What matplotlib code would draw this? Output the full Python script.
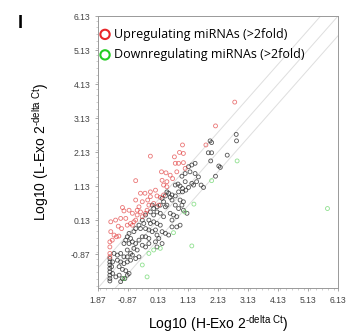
import numpy as np
import matplotlib
matplotlib.use('Agg')
from matplotlib import pyplot as plt
from matplotlib.ticker import MultipleLocator, FixedLocator

# values (log10 of 2^-dCt)
up_x = [2.69, 2.05, 0.95, 1.73, -0.12, 0.85, 0.98, 0.68, 0.71, 0.82, 0.98, 1.04, 0.76,
        0.25, 0.40, 0.54, 0.62, -0.61, 0.43, 0.43, -0.45, -0.30, -0.12, -0.12, 0.10,
        0.21, 0.32, -0.61, -0.39, -0.21, -0.01, 0.16, -1.05, -1.00, -0.83, -0.72,
        -0.50, -0.45, -0.56, -0.39, -0.28, -1.44, -1.28, -1.11, -0.94, -1.19, -1.08,
        -0.89, -0.78, -0.67, -1.44, -1.33, -1.25, -1.39, -1.17, -1.47, -1.47, -1.47,
        -1.47, -0.61, -0.72, -0.56, 0.27, 0.32, 0.05, -0.23, -0.17]
up_y = [3.60, 2.90, 2.34, 2.34, 2.01, 2.12, 2.09, 1.99, 1.80, 1.80, 1.82, 1.65, 1.55,
        1.55, 1.52, 1.45, 1.35, 1.29, 1.26, 1.11, 0.92, 0.92, 0.96, 0.82, 0.84,
        0.80, 0.87, 0.72, 0.67, 0.72, 0.62, 0.57, 0.50, 0.40, 0.42, 0.33,
        0.52, 0.37, 0.28, 0.23, 0.33, 0.08, 0.13, 0.18, 0.18, -0.05, -0.12,
        -0.02, 0.03, 0.08, -0.21, -0.31, -0.36, -0.46, -0.34, -0.51, -0.66, -0.85,
        -0.95, 0.13, -0.02, 0.42, 1.30, 1.16, 1.01, 0.42, 0.57]

down_x = [5.78, 2.77, 1.92, 1.33, 1.02, 0.65, 1.26, 0.21, -0.01, -0.17, -0.39, -0.23, -1.00]
down_y = [0.47, 1.87, 1.29, 0.60, 0.37, -0.24, -0.63, -0.70, -0.75, -0.85, -1.19, -1.54, -1.59]

other_x = [2.74, 2.75, 2.44, 1.87, 1.92, 1.81, 1.92, 1.89, 2.16, 2.21, 2.05,
           1.37, 1.26, 1.15, 1.20, 1.04, 0.93, 1.04, 1.37, 1.48, 1.42, 1.57, 1.65,
           1.26, 1.32, 1.15, 0.71, 0.80, 0.87, 0.95, 1.06, 0.95, 0.82,
           0.43, 0.49, 0.38, 0.54, 0.60, 0.71, 0.87, 0.98, 0.93, 0.71, 0.82,
           0.27, 0.32, 0.21, 0.38, 0.10, -0.01, -0.06, -0.12, -0.01, 0.10, 0.21, 0.32,
           0.54, 0.65, 0.76, 0.60, -0.28, -0.39, -0.34, -0.17, -0.12, -0.01, 0.10, 0.21,
           -0.50, -0.61, -0.67, -0.45, -0.28, -0.17, -0.06, 0.05, 0.27, 0.38, 0.49, 0.10, 0.16,
           -0.83, -0.89, -0.78, -0.72, -0.94, -1.00, -0.83, -0.61, -0.50, -0.39, -0.28, -0.17,
           -0.39, -0.28, -0.17, -0.67, -0.56, -0.89, -0.78,
           -1.33, -1.22, -1.11, -1.00, -0.89, -0.72, -0.61, -0.50,
           -1.22, -1.11, -1.00, -0.89, -0.78, -1.16, -1.05, -0.94, -0.83,
           -1.47, -1.47, -1.47, -1.47, -1.47, -1.47, -1.47, -1.47,
           -1.38, -1.41, -1.38, -1.27, -1.16, -1.05, -0.89, -1.11, -0.97,
           0.60, 0.76, 0.87, 0.05, 0.10, 0.27, 0.98, 1.10, 0.43, 0.60]
other_y = [2.65, 2.46, 2.04, 2.46, 2.41, 2.11, 2.11, 1.87, 1.72, 1.68, 1.42,
           1.80, 1.75, 1.70, 1.55, 1.50, 1.42, 1.26, 1.50, 1.40, 1.26, 1.16, 1.09,
           1.21, 1.16, 1.09, 1.16, 1.19, 1.13, 1.06, 1.01, 0.96, 0.96,
           0.96, 0.92, 0.84, 0.80, 0.87, 0.84, 0.72, 0.67, 0.57, 0.57, 0.47,
           0.77, 0.67, 0.57, 0.52, 0.52, 0.47, 0.57, 0.37, 0.28, 0.37, 0.33, 0.23,
           0.33, 0.28, 0.23, 0.13, 0.28, 0.13, 0.03, 0.13, 0.03, 0.08, 0.03, -0.02,
           -0.02, -0.12, -0.21, -0.12, -0.12, -0.16, -0.21, -0.16, -0.21, -0.26, -0.31, -0.31, -0.41,
           -0.26, -0.36, -0.41, -0.51, -0.46, -0.56, -0.56, -0.56, -0.46, -0.36, -0.36, -0.41,
           -0.61, -0.66, -0.56, -0.70, -0.75, -0.75, -0.85,
           -0.85, -0.90, -0.85, -0.95, -0.95, -0.90, -1.00, -0.95,
           -1.05, -1.10, -1.15, -1.10, -1.05, -1.24, -1.32, -1.36, -1.44,
           -1.00, -1.10, -1.19, -1.29, -1.39, -1.49, -1.59, -1.66,
           -1.10, -1.24, -1.44, -1.54, -1.49, -1.59, -1.49, -1.68, -1.59,
           -0.07, -0.07, -0.02, -0.51, -0.66, -0.56, 0.42, 0.33, 0.57, 0.72]

x_ticks = [-1.87, -0.87, 0.13, 1.13, 2.13, 3.13, 4.13, 5.13, 6.13]
x_labels = ['1.87', '-0.87', '0.13', '1.13', '2.13', '3.13', '4.13', '5.13', '6.13']
y_ticks = [-0.87, 0.13, 1.13, 2.13, 3.13, 4.13, 5.13, 6.13]
y_labels = ['-0.87', '0.13', '1.13', '2.13', '3.13', '4.13', '5.13', '6.13']
offset = 0.58

plt.rcParams['font.family'] = ['Liberation Sans', 'DejaVu Sans']
fig = plt.figure(figsize=(3.47, 3.35), dpi=100)
ax = fig.add_axes([0.282, 0.140, 0.692, 0.812])

lo, hi = -1.87, 6.13
line = np.array([lo, hi])
for off in (offset, 0, -offset):
    ax.plot(line, line + off, color='#dedede', lw=0.7, zorder=1)

ax.scatter(other_x, other_y, s=8, facecolors='none', edgecolors='#2a2a2a',
           linewidths=0.6, alpha=0.8, zorder=2)
ax.scatter(up_x, up_y, s=8, facecolors='none', edgecolors='#e23c3c',
           linewidths=0.6, alpha=0.7, zorder=3)
ax.scatter(down_x, down_y, s=8, facecolors='none', edgecolors='#5fd35f',
           linewidths=0.6, alpha=0.7, zorder=3)

# legend entries
h_up = ax.scatter([], [], s=45, facecolors='none', edgecolors='#e8262a', linewidths=1.5)
h_dn = ax.scatter([], [], s=45, facecolors='none', edgecolors='#22cc22', linewidths=1.5)
ax.legend([h_up, h_dn], ['Upregulating miRNAs (>2fold)', 'Downregulating miRNAs (>2fold)'],
          loc='upper left', bbox_to_anchor=(-0.03, 0.985), frameon=False,
          handletextpad=0.15, labelspacing=0.6, borderaxespad=0.2,
          prop={'family': 'Open Sans', 'size': 9}, handlelength=1.1)

ax.set_xlim(lo, hi)
ax.set_ylim(lo, hi)
ax.xaxis.set_major_locator(FixedLocator(x_ticks))
ax.set_xticklabels(x_labels)
ax.yaxis.set_major_locator(FixedLocator(y_ticks))
ax.set_yticklabels(y_labels)
ax.xaxis.set_minor_locator(MultipleLocator(0.2))
ax.yaxis.set_minor_locator(MultipleLocator(0.2))
ax.tick_params(which='major', length=2.5, width=0.6, color='#999999',
               labelsize=6.2, labelcolor='#444444', pad=3)
ax.tick_params(which='minor', length=1.2, width=0.4, color='#aaaaaa')
for sp in ax.spines.values():
    sp.set_color('#999999')
    sp.set_linewidth(0.7)

sup = r'$^{\mathregular{\u2010delta\ Ct}}$'.replace(r'\u2010', '\u2010')
ax.set_xlabel('Log10 (H-Exo 2' + sup + ')', fontsize=10, labelpad=6)
ax.set_ylabel('Log10 (L-Exo 2' + sup + ')', fontsize=10, labelpad=14)

fig.text(0.05, 0.93, 'I', fontsize=13, fontweight='bold', va='center')

fig.savefig('out.png', dpi=100)
